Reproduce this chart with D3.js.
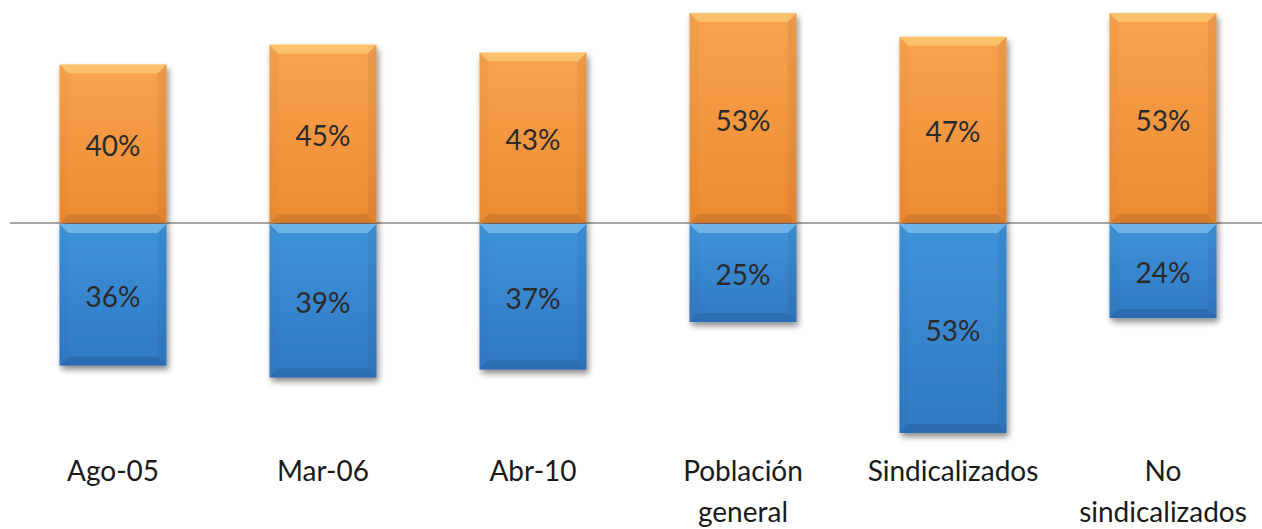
<!DOCTYPE html>
<html><head><meta charset="utf-8">
<script src="https://cdn.jsdelivr.net/npm/d3@7"></script>
<style>body{margin:0;background:#fff;}svg{display:block;}</style>
</head><body><svg id="c" width="1262" height="529"></svg>
<script>
const categories = ["Ago-05","Mar-06","Abr-10","Población general","Sindicalizados","No sindicalizados"];
const labelLines = [["Ago-05"],["Mar-06"],["Abr-10"],["Población","general"],["Sindicalizados"],["No","sindicalizados"]];
const positiveValues = [40,45,43,53,47,53];
const negativeValues = [36,39,37,25,53,24];

const svg = d3.select("#c");
const x = d3.scaleBand().domain(categories).range([8,1268]).paddingInner(0.49).paddingOuter(0.245);
const y = d3.scaleLinear().domain([-53,53]).range([433,13]);
const font = "Lato, 'Open Sans', sans-serif";

const defs = svg.append("defs");
function grad(id, c1, c2){
  const g = defs.append("linearGradient").attr("id",id).attr("x1",0).attr("y1",0).attr("x2",0).attr("y2",1);
  g.append("stop").attr("offset","0%").attr("stop-color",c1);
  g.append("stop").attr("offset","100%").attr("stop-color",c2);
}
grad("gO","#F7A34E","#EE8B32");
grad("gB","#3F93DA","#3079C3");
const f = defs.append("filter").attr("id","sh").attr("x","-20%").attr("y","-20%").attr("width","140%").attr("height","140%");
f.append("feGaussianBlur").attr("in","SourceAlpha").attr("stdDeviation",3);
f.append("feOffset").attr("dx",2).attr("dy",4).attr("result","o");
f.append("feComponentTransfer").append("feFuncA").attr("type","linear").attr("slope",0.45);
const m = f.append("feMerge");
m.append("feMergeNode");
m.append("feMergeNode").attr("in","SourceGraphic");

svg.append("line").attr("x1",10).attr("x2",1262).attr("y1",y(0)).attr("y2",y(0))
  .attr("stroke","#a6a6a6").attr("stroke-width",2);

function drawBar(g, x0, y0, w, h, fill, light){
  const b = 9;
  const grp = g.append("g").attr("filter","url(#sh)");
  grp.append("rect").attr("x",x0).attr("y",y0).attr("width",w).attr("height",h).attr("fill",fill);
  grp.append("polygon").attr("points",[[x0,y0],[x0+w,y0],[x0+w-b,y0+b],[x0+b,y0+b]].join(" "))
    .attr("fill",light).attr("opacity",0.5);
  grp.append("polygon").attr("points",[[x0,y0],[x0+b,y0+b],[x0+b,y0+h-b],[x0,y0+h]].join(" "))
    .attr("fill","#000").attr("opacity",0.02);
  grp.append("polygon").attr("points",[[x0+w,y0],[x0+w,y0+h],[x0+w-b,y0+h-b],[x0+w-b,y0+b]].join(" "))
    .attr("fill","#000").attr("opacity",0.05);
  grp.append("polygon").attr("points",[[x0,y0+h],[x0+w,y0+h],[x0+w-b,y0+h-b],[x0+b,y0+h-b]].join(" "))
    .attr("fill","#000").attr("opacity",0.1);
}

const bars = svg.append("g");
categories.forEach((c,i)=>{
  const x0 = x(c), w = x.bandwidth();
  drawBar(bars, x0, y(positiveValues[i]), w, y(0)-y(positiveValues[i]), "url(#gO)", "#FFE08A");
  drawBar(bars, x0, y(0)+1, w, y(-negativeValues[i])-y(0)-1, "url(#gB)", "#9DD3F5");
});

const lab = svg.append("g").attr("font-family",font).attr("font-size",28).attr("fill","#2a2a2a").attr("text-anchor","middle");
categories.forEach((c,i)=>{
  const cx = x(c)+x.bandwidth()/2;
  lab.append("text").attr("x",cx).attr("y",(y(positiveValues[i])+y(0))/2).attr("dy","0.45em").text(positiveValues[i]+"%");
  lab.append("text").attr("x",cx).attr("y",(y(-negativeValues[i])+y(0))/2).attr("dy","0.45em").text(negativeValues[i]+"%");
});

const cat = svg.append("g").attr("font-family",font).attr("font-size",28).attr("fill","#1a1a1a").attr("text-anchor","middle");
categories.forEach((c,i)=>{
  const cx = x(c)+x.bandwidth()/2;
  const t = cat.append("text").attr("x",cx).attr("y",481);
  labelLines[i].forEach((ln,j)=>{
    t.append("tspan").attr("x",cx).attr("dy", j===0?0:41).text(ln);
  });
});
</script></body></html>
